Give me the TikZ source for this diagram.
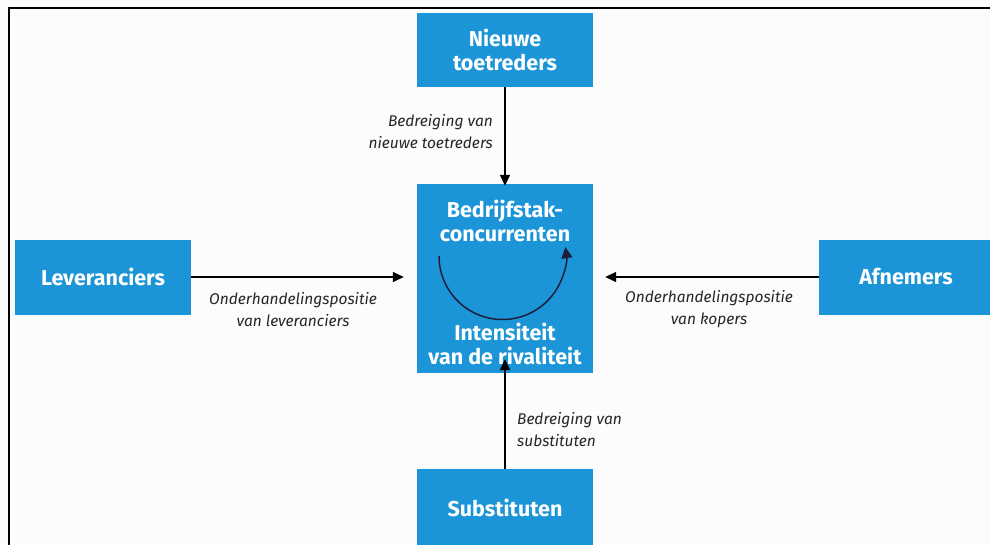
\documentclass[tikz,border=0pt]{standalone}
\usepackage{fontspec}
\setmainfont{Fira Sans}
\usetikzlibrary{arrows.meta}
\definecolor{forceblue}{RGB}{27,149,215}
\definecolor{paper}{RGB}{252,252,252}
\definecolor{cyclecol}{RGB}{28,30,58}
\tikzset{
  forcebox/.style={fill=forceblue, draw=none, inner sep=0pt, text=white,
    font=\fontsize{21.5}{24}\selectfont\bfseries, align=center},
  innertext/.style={text=white, font=\fontsize{21.5}{23.5}\selectfont\bfseries,
    align=center, inner sep=0pt},
  forcelabel/.style={font=\fontsize{15.5}{22}\selectfont\itshape, inner sep=0pt,
    text=black!85},
  force/.style={line width=1.4pt, -{Triangle[length=11pt,width=10pt]}},
}
\begin{document}
\begin{tikzpicture}[x=1pt,y=-1pt]
  \useasboundingbox (0,0) rectangle (990,544);
  \fill[paper] (0,0) rectangle (990,544);
  % frame along the top and the left side
  \draw[line width=2.2pt, black] (9,545) -- (9,8) -- (991,8);

  % the five forces
  \node[forcebox, minimum width=176pt, minimum height=189pt] (rival) at (505,278.5) {};
  \node[forcebox, minimum width=176pt, minimum height=74pt] (entrants) at (505,50) {Nieuwe\\toetreders};
  \node[forcebox, minimum width=176pt, minimum height=75pt] (suppliers) at (103,277) {Leveranciers};
  \node[forcebox, minimum width=174pt, minimum height=75pt] (buyers) at (906,277) {Afnemers};
  \node[forcebox, minimum width=176pt, minimum height=78pt] (subs) at (505,508) {Substituten};

  % texts inside the central box
  \node[innertext] (rivaltitle) at (505,221) {Bedrijfstak-\\concurrenten};
  \node[innertext] (rivalsub) at (505,344) {Intensiteit\\van de rivaliteit};

  % rivalry cycle
  \coordinate (cyclestart) at (439,256);
  \draw[cyclecol, line width=1.5pt, -{Triangle[length=11pt,width=11pt]}]
    (cyclestart) arc[start angle=180, end angle=368, radius=63.5pt];

  % connectors
  \draw[force] (entrants.south) -- ([yshift=-2pt]rival.north);
  \draw[force] (suppliers.east) -- ([xshift=-13pt]rival.west |- suppliers.east);
  \draw[force] (buyers.west) -- ([xshift=12pt]rival.east |- buyers.west);
  \draw[force] (subs.north) -- ([yshift=14pt]rival.south);

  % connector labels
  \node[forcelabel, align=right, anchor=east] (lblentrants) at (493,132) {Bedreiging van\\nieuwe toetreders};
  \node[forcelabel, align=center] (lblsuppliers) at (293,309.5) {Onderhandelingspositie\\van leveranciers};
  \node[forcelabel, align=center] (lblbuyers) at (709,309.5) {Onderhandelingspositie\\van kopers};
  \node[forcelabel, align=left, anchor=west] (lblsubs) at (517,429.5) {Bedreiging van\\substituten};
\end{tikzpicture}
\end{document}
